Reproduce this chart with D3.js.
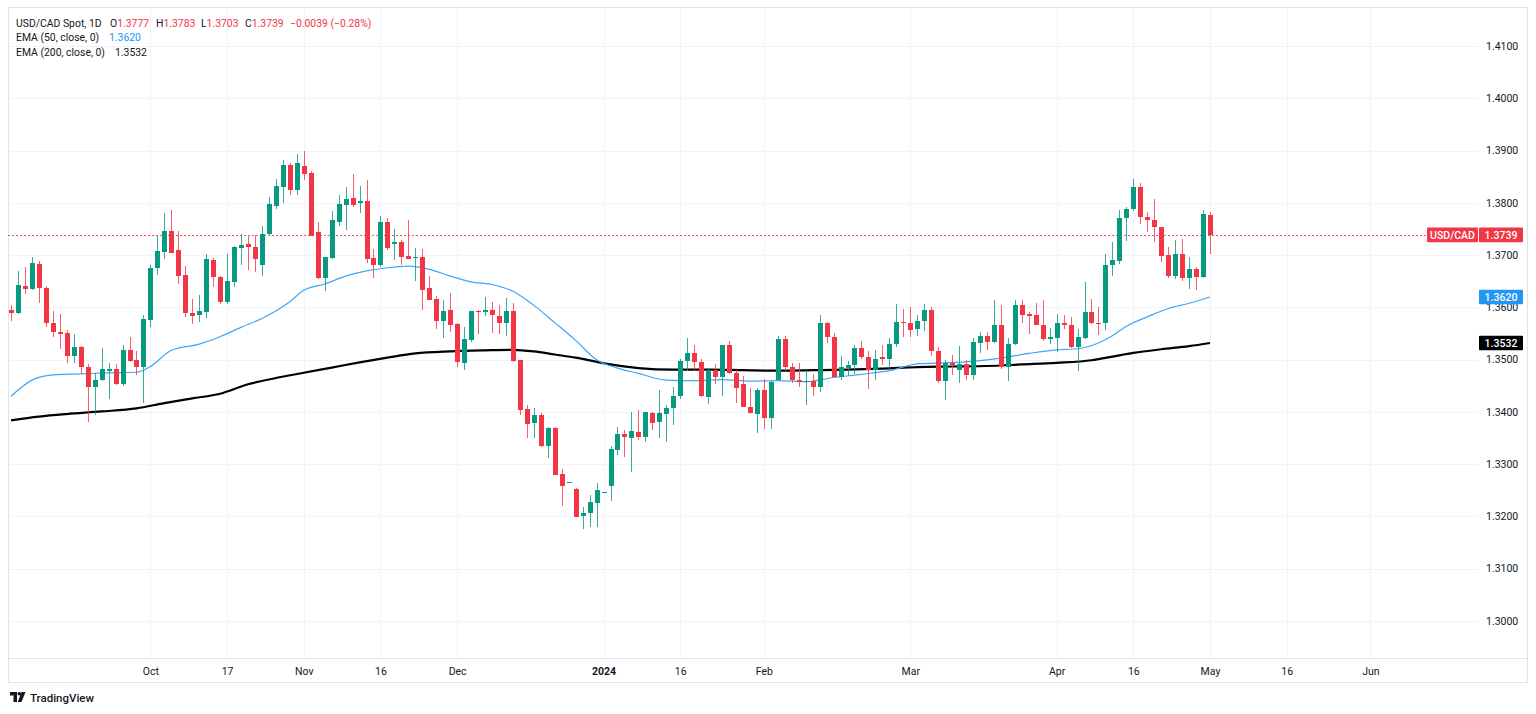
<!DOCTYPE html>
<html>
<head>
<meta charset="utf-8">
<script src="https://cdn.jsdelivr.net/npm/d3@7"></script>
<style>
    html, body {margin: 0; padding: 0; background: #ffffff;}
    svg {display: block; font-family: Roboto, "Noto Sans", sans-serif;}
</style>
</head>
<body>
<svg id="chart"></svg>
<script>
const startDate = "2023-09-04";

const opens = [
    1.3595, 1.3589, 1.3642, 1.3635, 1.3684, 1.3638, 1.3571, 1.3554, 1.3552, 1.3508,
    1.3524, 1.3487, 1.3447, 1.3461, 1.3479, 1.3483, 1.3454, 1.3518, 1.3499, 1.3487,
    1.3576, 1.3675, 1.3706, 1.3747, 1.3710, 1.3663, 1.3589, 1.3585, 1.3591, 1.3690,
    1.3659, 1.3610, 1.3649, 1.3713, 1.3721, 1.3716, 1.3682, 1.3741, 1.3794, 1.3831,
    1.3872, 1.3825, 1.3870, 1.3858, 1.3745, 1.3656, 1.3695, 1.3764, 1.3797, 1.3809,
    1.3799, 1.3804, 1.3694, 1.3681, 1.3763, 1.3721, 1.3726, 1.3698, 1.3694, 1.3697,
    1.3638, 1.3617, 1.3574, 1.3595, 1.3569, 1.3494, 1.3537, 1.3593, 1.3591, 1.3596,
    1.3583, 1.3571, 1.3593, 1.3499, 1.3405, 1.3379, 1.3394, 1.3334, 1.3370, 1.3281,
    1.3266, 1.3253, 1.3200, 1.3207, 1.3226, 1.3246, 1.3258, 1.3328, 1.3357, 1.3351,
    1.3361, 1.3352, 1.3399, 1.3380, 1.3396, 1.3408, 1.3430, 1.3497, 1.3513, 1.3496,
    1.3429, 1.3481, 1.3467, 1.3528, 1.3474, 1.3453, 1.3409, 1.3396, 1.3443, 1.3389,
    1.3462, 1.3539, 1.3487, 1.3462, 1.3458, 1.3459, 1.3448, 1.3570, 1.3543, 1.3466,
    1.3485, 1.3489, 1.3523, 1.3505, 1.3481, 1.3505, 1.3502, 1.3530, 1.3573, 1.3571,
    1.3558, 1.3574, 1.3595, 1.3517, 1.3459, 1.3493, 1.3481, 1.3492, 1.3471, 1.3532,
    1.3545, 1.3534, 1.3567, 1.3487, 1.3530, 1.3604, 1.3587, 1.3585, 1.3567, 1.3539,
    1.3542, 1.3571, 1.3567, 1.3524, 1.3542, 1.3591, 1.3571, 1.3570, 1.3681, 1.3689,
    1.3771, 1.3788, 1.3830, 1.3773, 1.3768, 1.3754, 1.3700, 1.3661, 1.3703, 1.3656,
    1.3673, 1.3658, 1.3777
];
const highs = [
    1.3604, 1.3669, 1.3677, 1.3696, 1.3689, 1.3641, 1.3594, 1.3587, 1.3557, 1.3550,
    1.3526, 1.3491, 1.3475, 1.3523, 1.3494, 1.3492, 1.3528, 1.3543, 1.3516, 1.3585,
    1.3681, 1.3736, 1.3781, 1.3786, 1.3747, 1.3679, 1.3617, 1.3624, 1.3702, 1.3695,
    1.3661, 1.3703, 1.3717, 1.3741, 1.3736, 1.3739, 1.3756, 1.3812, 1.3846, 1.3882,
    1.3876, 1.3893, 1.3899, 1.3861, 1.3763, 1.3697, 1.3785, 1.3815, 1.3831, 1.3856,
    1.3833, 1.3844, 1.3711, 1.3776, 1.3772, 1.3750, 1.3729, 1.3767, 1.3713, 1.3711,
    1.3661, 1.3622, 1.3615, 1.3628, 1.3570, 1.3562, 1.3594, 1.3596, 1.3620, 1.3611,
    1.3604, 1.3619, 1.3609, 1.3499, 1.3414, 1.3408, 1.3399, 1.3372, 1.3372, 1.3291,
    1.3266, 1.3254, 1.3218, 1.3242, 1.3265, 1.3246, 1.3334, 1.3372, 1.3366, 1.3400,
    1.3403, 1.3400, 1.3400, 1.3443, 1.3413, 1.3448, 1.3502, 1.3541, 1.3528, 1.3502,
    1.3483, 1.3491, 1.3528, 1.3535, 1.3481, 1.3469, 1.3446, 1.3446, 1.3464, 1.3459,
    1.3545, 1.3545, 1.3493, 1.3493, 1.3480, 1.3473, 1.3586, 1.3572, 1.3552, 1.3507,
    1.3497, 1.3528, 1.3536, 1.3517, 1.3518, 1.3529, 1.3541, 1.3606, 1.3598, 1.3601,
    1.3585, 1.3606, 1.3601, 1.3525, 1.3499, 1.3510, 1.3526, 1.3500, 1.3541, 1.3553,
    1.3553, 1.3614, 1.3604, 1.3541, 1.3615, 1.3615, 1.3591, 1.3609, 1.3615, 1.3561,
    1.3588, 1.3585, 1.3581, 1.3558, 1.3648, 1.3617, 1.3600, 1.3703, 1.3726, 1.3787,
    1.3793, 1.3846, 1.3838, 1.3782, 1.3807, 1.3754, 1.3715, 1.3729, 1.3731, 1.3696,
    1.3677, 1.3786, 1.3783
];
const lows = [
    1.3575, 1.3587, 1.3625, 1.3633, 1.3609, 1.3562, 1.3544, 1.3521, 1.3494, 1.3494,
    1.3473, 1.3380, 1.3395, 1.3460, 1.3424, 1.3451, 1.3450, 1.3496, 1.3471, 1.3417,
    1.3562, 1.3663, 1.3692, 1.3704, 1.3645, 1.3582, 1.3569, 1.3572, 1.3580, 1.3640,
    1.3607, 1.3607, 1.3640, 1.3681, 1.3671, 1.3668, 1.3661, 1.3739, 1.3789, 1.3799,
    1.3815, 1.3815, 1.3843, 1.3736, 1.3654, 1.3631, 1.3692, 1.3755, 1.3748, 1.3793,
    1.3780, 1.3685, 1.3657, 1.3677, 1.3710, 1.3690, 1.3682, 1.3692, 1.3651, 1.3595,
    1.3614, 1.3559, 1.3542, 1.3554, 1.3487, 1.3481, 1.3534, 1.3549, 1.3584, 1.3552,
    1.3550, 1.3545, 1.3496, 1.3395, 1.3351, 1.3351, 1.3333, 1.3312, 1.3279, 1.3220,
    1.3266, 1.3199, 1.3176, 1.3179, 1.3179, 1.3246, 1.3229, 1.3317, 1.3314, 1.3286,
    1.3346, 1.3342, 1.3366, 1.3350, 1.3343, 1.3376, 1.3425, 1.3479, 1.3479, 1.3429,
    1.3416, 1.3454, 1.3430, 1.3473, 1.3417, 1.3409, 1.3396, 1.3360, 1.3368, 1.3367,
    1.3461, 1.3479, 1.3456, 1.3448, 1.3414, 1.3430, 1.3438, 1.3532, 1.3466, 1.3462,
    1.3468, 1.3472, 1.3502, 1.3444, 1.3462, 1.3489, 1.3483, 1.3524, 1.3544, 1.3544,
    1.3546, 1.3555, 1.3508, 1.3455, 1.3423, 1.3470, 1.3456, 1.3461, 1.3461, 1.3512,
    1.3518, 1.3532, 1.3482, 1.3459, 1.3529, 1.3570, 1.3550, 1.3566, 1.3536, 1.3530,
    1.3515, 1.3558, 1.3523, 1.3478, 1.3539, 1.3569, 1.3547, 1.3557, 1.3661, 1.3683,
    1.3728, 1.3785, 1.3760, 1.3744, 1.3726, 1.3687, 1.3657, 1.3655, 1.3651, 1.3636,
    1.3633, 1.3657, 1.3703
];
const closes = [
    1.3589, 1.3643, 1.3636, 1.3685, 1.3638, 1.3571, 1.3553, 1.3550, 1.3508, 1.3524,
    1.3486, 1.3447, 1.3461, 1.3483, 1.3483, 1.3453, 1.3518, 1.3497, 1.3486, 1.3577,
    1.3676, 1.3708, 1.3747, 1.3705, 1.3661, 1.3589, 1.3584, 1.3593, 1.3692, 1.3658,
    1.3611, 1.3651, 1.3716, 1.3719, 1.3715, 1.3692, 1.3741, 1.3798, 1.3833, 1.3872,
    1.3825, 1.3876, 1.3856, 1.3737, 1.3656, 1.3697, 1.3767, 1.3798, 1.3807, 1.3796,
    1.3804, 1.3692, 1.3682, 1.3763, 1.3714, 1.3726, 1.3697, 1.3693, 1.3697, 1.3633,
    1.3615, 1.3574, 1.3594, 1.3567, 1.3495, 1.3539, 1.3593, 1.3591, 1.3596, 1.3586,
    1.3571, 1.3593, 1.3497, 1.3404, 1.3377, 1.3394, 1.3334, 1.3370, 1.3280, 1.3258,
    1.3266, 1.3199, 1.3207, 1.3227, 1.3250, 1.3246, 1.3330, 1.3357, 1.3352, 1.3364,
    1.3353, 1.3400, 1.3379, 1.3398, 1.3407, 1.3430, 1.3497, 1.3513, 1.3496, 1.3430,
    1.3481, 1.3467, 1.3528, 1.3474, 1.3445, 1.3409, 1.3398, 1.3443, 1.3388, 1.3458,
    1.3539, 1.3486, 1.3462, 1.3458, 1.3460, 1.3448, 1.3570, 1.3543, 1.3467, 1.3486,
    1.3489, 1.3523, 1.3505, 1.3481, 1.3502, 1.3502, 1.3531, 1.3573, 1.3570, 1.3557,
    1.3575, 1.3595, 1.3516, 1.3459, 1.3494, 1.3490, 1.3491, 1.3471, 1.3533, 1.3545,
    1.3534, 1.3567, 1.3486, 1.3530, 1.3604, 1.3586, 1.3584, 1.3567, 1.3539, 1.3544,
    1.3570, 1.3567, 1.3524, 1.3544, 1.3591, 1.3571, 1.3569, 1.3682, 1.3690, 1.3771,
    1.3788, 1.3830, 1.3773, 1.3767, 1.3754, 1.3698, 1.3661, 1.3703, 1.3656, 1.3673,
    1.3659, 1.3778, 1.3739
];

// EMA values at some bars (bar number, value)
const ema50Bars = [0, 3, 6, 10, 14, 18, 20, 23, 27, 30, 33, 36, 40, 42, 45, 48, 51, 54, 57, 60,
    63, 66, 69, 72, 75, 78, 81, 84, 87, 90, 94, 98, 102, 106, 110, 114, 118, 122, 126, 130,
    134, 138, 142, 146, 150, 153, 156, 158, 160, 163, 166, 169, 172];
const ema50 = [1.3430, 1.3461, 1.3471, 1.3473, 1.3475, 1.3476, 1.3487, 1.3518, 1.3530, 1.3544,
    1.3562, 1.3579, 1.3611, 1.3633, 1.3645, 1.3660, 1.3670, 1.3676, 1.3679, 1.3673,
    1.3660, 1.3649, 1.3644, 1.3631, 1.3604, 1.3571, 1.3537, 1.3500, 1.3484, 1.3474,
    1.3461, 1.3460, 1.3462, 1.3459, 1.3460, 1.3458, 1.3466, 1.3472, 1.3479, 1.3492,
    1.3494, 1.3497, 1.3503, 1.3512, 1.3519, 1.3521, 1.3532, 1.3546, 1.3564, 1.3582,
    1.3598, 1.3608, 1.3620];
const ema200Bars = [0, 4, 8, 13, 18, 22, 26, 30, 34, 38, 42, 46, 50, 54, 58, 63, 68, 72, 75, 78,
    81, 86, 90, 95, 100, 105, 110, 115, 120, 125, 130, 135, 140, 145, 150, 155, 158, 161, 165, 169, 172];
const ema200 = [1.3384, 1.3391, 1.3396, 1.3401, 1.3407, 1.3417, 1.3426, 1.3435, 1.3453, 1.3465,
    1.3475, 1.3485, 1.3495, 1.3504, 1.3512, 1.3516, 1.3518, 1.3519, 1.3516, 1.3510,
    1.3504, 1.3491, 1.3484, 1.3481, 1.3481, 1.3480, 1.3479, 1.3480, 1.3481, 1.3483,
    1.3486, 1.3487, 1.3488, 1.3491, 1.3494, 1.3499, 1.3506, 1.3513, 1.3520, 1.3526, 1.3532];

const tickDates = ["2023-10-02", "2023-10-17", "2023-11-01", "2023-11-16", "2023-12-01", "2024-01-01",
    "2024-01-16", "2024-02-01", "2024-03-01", "2024-04-01", "2024-04-16", "2024-05-01", "2024-05-16", "2024-06-03"];
const tickLabels = ["Oct", "17", "Nov", "16", "Dec", "2024", "16", "Feb", "Mar", "Apr", "16", "May", "16", "Jun"];
const priceTicks = [1.30, 1.31, 1.32, 1.33, 1.34, 1.35, 1.36, 1.37, 1.38, 1.39, 1.40, 1.41];

const W = 1536, H = 714;
const plot = {left: 8, right: 1479, top: 7, bottom: 658};
const upColor = "#089981", downColor = "#f23645", textColor = "#131722";
const gridColor = "#f0f3fa", borderColor = "#e0e3eb";

// weekday count from the first bar, the chart skips weekends
function barIndex(dateStr) {
    let d = new Date(startDate + "T00:00:00Z"), end = new Date(dateStr + "T00:00:00Z"), n = 0;
    while (d < end) {
        d.setUTCDate(d.getUTCDate() + 1);
        let wd = d.getUTCDay();
        if (wd !== 0 && wd !== 6) n++;
    }
    return n;
}

const x = d3.scaleLinear().domain([0, closes.length - 1]).range([11, 1210]);
const y = d3.scaleLinear().domain([1.30, 1.41]).range([621, 46.2]);

const svg = d3.select("#chart").attr("width", W).attr("height", H);

svg.append("clipPath").attr("id", "plotclip")
    .append("rect")
    .attr("x", plot.left).attr("y", plot.top)
    .attr("width", plot.right - plot.left).attr("height", plot.bottom - plot.top);

// grid
let grid = svg.append("g").attr("shape-rendering", "crispEdges");
grid.selectAll("line.h")
    .data(priceTicks)
    .join("line")
    .attr("x1", plot.left).attr("x2", plot.right)
    .attr("y1", d => Math.round(y(d)) + 0.5).attr("y2", d => Math.round(y(d)) + 0.5)
    .attr("stroke", gridColor);
grid.selectAll("line.v")
    .data(tickDates)
    .join("line")
    .attr("x1", d => Math.round(x(barIndex(d))) + 0.5).attr("x2", d => Math.round(x(barIndex(d))) + 0.5)
    .attr("y1", plot.top).attr("y2", plot.bottom)
    .attr("stroke", gridColor);

// frame
svg.append("rect")
    .attr("x", 8.5).attr("y", 7.5).attr("width", 1519).attr("height", 675)
    .attr("fill", "none").attr("stroke", borderColor);
svg.append("line")
    .attr("x1", 8).attr("x2", 1527).attr("y1", 658.5).attr("y2", 658.5)
    .attr("stroke", borderColor);

let plotG = svg.append("g").attr("clip-path", "url(#plotclip)");

// last price line
const lastY = Math.round(y(closes[closes.length - 1]));
plotG.append("line")
    .attr("x1", plot.left).attr("x2", 1427)
    .attr("y1", lastY + 0.5).attr("y2", lastY + 0.5)
    .attr("stroke", "#f7525f").attr("stroke-width", 1)
    .attr("stroke-dasharray", "2,2");

// EMA lines
let line = d3.line()
    .x(d => x(d[0]))
    .y(d => y(d[1]))
    .curve(d3.curveMonotoneX);

plotG.append("path")
    .datum(ema200Bars.map((b, k) => [b, ema200[k]]))
    .attr("d", line)
    .attr("fill", "none").attr("stroke", "#000000").attr("stroke-width", 2.2);
plotG.append("path")
    .datum(ema50Bars.map((b, k) => [b, ema50[k]]))
    .attr("d", line)
    .attr("fill", "none").attr("stroke", "#42a5f5").attr("stroke-width", 1.2);

// candles
let candles = plotG.selectAll("g.candle")
    .data(closes.map((c, i) => ({i, o: opens[i], h: highs[i], l: lows[i], c})))
    .join("g")
    .classed("candle", true)
    .attr("shape-rendering", "crispEdges");

candles.append("line")
    .attr("x1", d => Math.round(x(d.i)) + 0.5).attr("x2", d => Math.round(x(d.i)) + 0.5)
    .attr("y1", d => y(d.h)).attr("y2", d => y(d.l))
    .attr("stroke", d => d.c >= d.o ? upColor : downColor)
    .attr("stroke-opacity", 0.8);

candles.append("rect")
    .attr("x", d => Math.round(x(d.i)) - 2)
    .attr("width", 5)
    .attr("y", d => Math.round(y(Math.max(d.o, d.c))))
    .attr("height", d => Math.max(1, Math.round(y(Math.min(d.o, d.c))) - Math.round(y(Math.max(d.o, d.c)))))
    .attr("fill", d => d.c >= d.o ? upColor : downColor);

// price axis
svg.append("g").selectAll("text")
    .data(priceTicks)
    .join("text")
    .attr("x", 1486)
    .attr("y", d => y(d))
    .attr("dy", "0.35em")
    .attr("font-size", 10.5)
    .attr("fill", textColor)
    .text(d => d.toFixed(4));

// price labels on the axis
const lastPrice = closes[closes.length - 1];
let tags = [
    {v: lastPrice, fill: downColor, text: lastPrice.toFixed(4)},
    {v: ema50[ema50.length - 1], fill: "#2196f3", text: ema50[ema50.length - 1].toFixed(4)},
    {v: ema200[ema200.length - 1], fill: "#000000", text: ema200[ema200.length - 1].toFixed(4)}
];
let tagG = svg.append("g").selectAll("g")
    .data(tags)
    .join("g")
    .attr("transform", d => `translate(1479,${y(d.v)})`);
tagG.append("rect")
    .attr("x", 0).attr("y", -7.3).attr("width", 44).attr("height", 14.6)
    .attr("rx", 1).attr("fill", d => d.fill);
tagG.append("text")
    .attr("x", 22).attr("dy", "0.36em")
    .attr("text-anchor", "middle")
    .attr("font-size", 10.5).attr("font-weight", 500)
    .attr("fill", "#ffffff")
    .text(d => d.text);

let symTag = svg.append("g").attr("transform", `translate(1427,${y(lastPrice)})`);
symTag.append("rect")
    .attr("x", 0).attr("y", -7.3).attr("width", 51).attr("height", 14.6)
    .attr("rx", 1).attr("fill", downColor);
symTag.append("text")
    .attr("x", 25.5).attr("dy", "0.36em")
    .attr("text-anchor", "middle")
    .attr("font-size", 10.5).attr("font-weight", 500)
    .attr("fill", "#ffffff")
    .text("USD/CAD");

// time axis
svg.append("g").selectAll("text")
    .data(tickDates)
    .join("text")
    .attr("x", d => x(barIndex(d)) + 0.5)
    .attr("y", 671)
    .attr("dy", "0.35em")
    .attr("text-anchor", "middle")
    .attr("font-size", 10.5)
    .attr("font-weight", (d, k) => tickLabels[k] === "2024" ? 700 : 400)
    .attr("fill", textColor)
    .text((d, k) => tickLabels[k]);

// legend
const last = closes.length - 1;
let change = closes[last] - closes[last - 1];
let legend = svg.append("g").attr("font-size", 10.4).attr("fill", textColor);

let row1 = legend.append("text").attr("y", 23).attr("dy", "0.35em");
row1.append("tspan").attr("x", 16).text("USD/CAD Spot, 1D");
[["O", opens[last], 110], ["H", highs[last], 156], ["L", lows[last], 201], ["C", closes[last], 245]]
    .forEach(([k, v, px]) => {
        row1.append("tspan").attr("x", px).text(k);
        row1.append("tspan").attr("fill", downColor).text(v.toFixed(4));
    });
row1.append("tspan").attr("x", 290).attr("fill", downColor)
    .text(`${change < 0 ? "\u2212" : "+"}${Math.abs(change).toFixed(4)} (${change < 0 ? "\u2212" : "+"}${Math.abs(change / closes[last - 1] * 100).toFixed(2)}%)`);

let row2 = legend.append("text").attr("y", 37.5).attr("dy", "0.35em");
row2.append("tspan").attr("x", 16).text("EMA (50, close, 0)");
row2.append("tspan").attr("x", 109).attr("fill", "#2196f3").text(ema50[ema50.length - 1].toFixed(4));

let row3 = legend.append("text").attr("y", 52).attr("dy", "0.35em");
row3.append("tspan").attr("x", 16).text("EMA (200, close, 0)");
row3.append("tspan").attr("x", 115).text(ema200[ema200.length - 1].toFixed(4));

// TradingView mark
let logo = svg.append("g").attr("transform", "translate(10,692)").attr("fill", textColor);
logo.append("path").attr("d", "M0,0 H7 V10 H3.5 V3.5 H0 Z");
logo.append("circle").attr("cx", 9.3).attr("cy", 1.8).attr("r", 1.8);
logo.append("path").attr("d", "M11.5,0 H15.5 L11.5,10 H7.8 Z");
svg.append("text")
    .attr("x", 30).attr("y", 697.5).attr("dy", "0.35em")
    .attr("font-size", 11.5).attr("font-weight", 500)
    .attr("fill", textColor)
    .text("TradingView");
</script>
</body>
</html>
